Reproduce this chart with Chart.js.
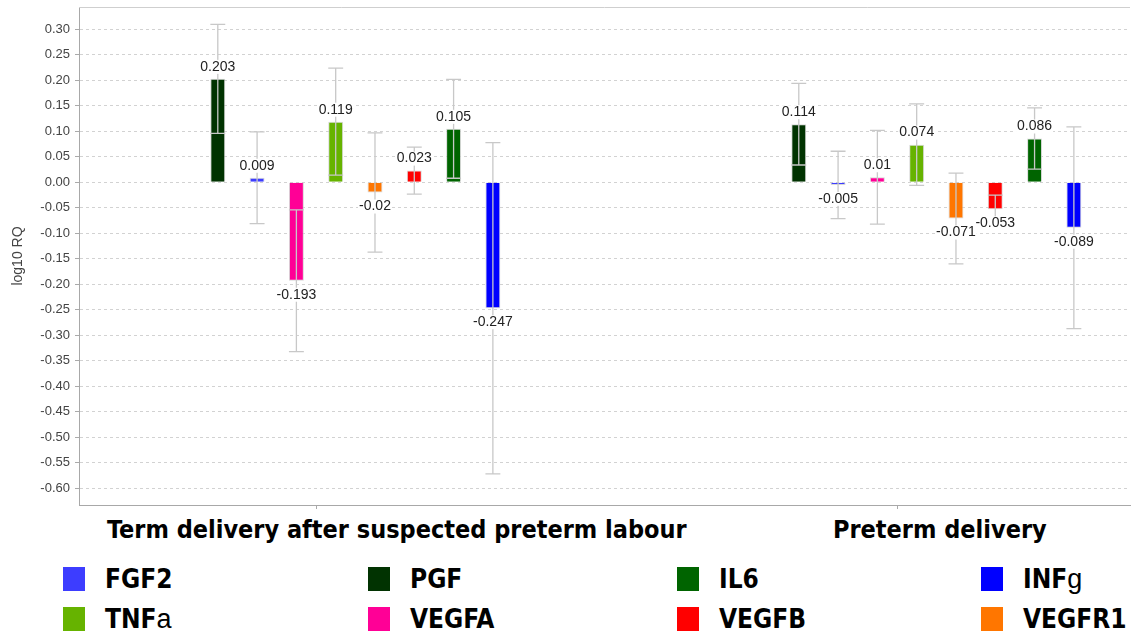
<!DOCTYPE html>
<html>
<head>
<meta charset="utf-8">
<script src="https://cdn.jsdelivr.net/npm/chart.js"></script>
<style>
  html,body{margin:0;padding:0;background:#fff;}
  #wrap{position:relative;width:1131px;height:644px;overflow:hidden;}
  #chart{position:absolute;left:0;top:0;}
  .grp{position:absolute;top:515px;font-family:"DejaVu Sans Condensed","DejaVu Sans",sans-serif;font-stretch:condensed;font-weight:bold;font-size:25px;color:#000;white-space:nowrap;}
  #legend{position:absolute;left:63px;top:567px;display:grid;grid-template-columns:305px 309px 304px 150px;grid-auto-rows:40px;}
  .item{display:flex;align-items:center;height:24px;}
  .sw{width:22px;height:24px;margin-right:20px;flex:none;}
  .lbl{font-family:"DejaVu Sans Condensed","DejaVu Sans",sans-serif;font-stretch:condensed;font-weight:bold;font-size:26px;color:#000;white-space:nowrap;}
  .lbl span{font-family:"Liberation Sans",Arial,sans-serif;font-weight:normal;font-size:27px;}
</style>
</head>
<body>
<div id="wrap">
  <canvas id="chart" width="1131" height="515"></canvas>
  <div class="grp" style="left:107px">Term delivery after suspected preterm labour</div>
  <div class="grp" style="left:833px">Preterm delivery</div>
  <div id="legend"></div>
</div>
<script>
const groups = ["Term delivery after suspected preterm labour", "Preterm delivery"];
const genes = ["PGF", "FGF2", "VEGFA", "TNFa", "VEGFR1", "VEGFB", "IL6", "INFg"];
const colors = ["#013301", "#3d3dff", "#ff0096", "#66b300", "#ff7600", "#ff0000", "#006400", "#0000ff"];
const termValues = [0.203, 0.009, -0.193, 0.119, -0.02, 0.023, 0.105, -0.247];
const pretermValues = [0.114, -0.005, 0.01, 0.074, -0.071, -0.053, 0.086, -0.089];
const termErrors = [0.107, 0.09, 0.139, 0.105, 0.117, 0.046, 0.097, 0.325];
const pretermErrors = [0.08, 0.066, 0.092, 0.08, 0.089, 0.028, 0.06, 0.198];
const yTicks = [0.30, 0.25, 0.20, 0.15, 0.10, 0.05, 0.00, -0.05, -0.10, -0.15, -0.20, -0.25,
                -0.30, -0.35, -0.40, -0.45, -0.50, -0.55, -0.60];
const legendRows = [["FGF2", "PGF", "IL6", "INFg"], ["TNFa", "VEGFA", "VEGFB", "VEGFR1"]];

const groupValues = [termValues, pretermValues];
const groupErrors = [termErrors, pretermErrors];
// the original series list had two empty series in front of the genes
const EMPTY = 2;

const datasets = [];
for (let k = 0; k < EMPTY; k++) {
  datasets.push({label: "", data: groups.map((g, i) => ({x: i, y: null}))});
}
genes.forEach((g, gi) => {
  datasets.push({
    label: g,
    data: groups.map((grp, i) => ({x: i, y: groupValues[i][gi]})),
    backgroundColor: colors[gi],
    borderColor: "rgba(205,205,205,0.8)",
    borderWidth: 1
  });
});

const overlay = {
  id: "overlay",
  afterDatasetsDraw(chart) {
    const ctx = chart.ctx, ys = chart.scales.y, a = chart.chartArea;
    ctx.save();
    // top outline of the plot box
    ctx.strokeStyle = "#cfcfcf";
    ctx.lineWidth = 1;
    ctx.beginPath();
    ctx.moveTo(a.left, a.top + 0.5);
    ctx.lineTo(a.right, a.top + 0.5);
    ctx.stroke();
    // error bars
    ctx.strokeStyle = "#c8c8c8";
    ctx.lineWidth = 1.3;
    genes.forEach((g, gi) => {
      const meta = chart.getDatasetMeta(gi + EMPTY);
      meta.data.forEach((el, i) => {
        const v = groupValues[i][gi], e = groupErrors[i][gi];
        const hi = ys.getPixelForValue(v + e), lo = ys.getPixelForValue(v - e);
        const half = el.width / 2;
        ctx.beginPath();
        ctx.moveTo(el.x, hi); ctx.lineTo(el.x, lo);
        ctx.moveTo(el.x - half, hi); ctx.lineTo(el.x + half, hi);
        ctx.moveTo(el.x - half, lo); ctx.lineTo(el.x + half, lo);
        ctx.stroke();
      });
    });
    // value labels on a white ground
    ctx.font = "14px 'Liberation Sans', Arial, sans-serif";
    ctx.textAlign = "center";
    ctx.textBaseline = "middle";
    genes.forEach((g, gi) => {
      const meta = chart.getDatasetMeta(gi + EMPTY);
      meta.data.forEach((el, i) => {
        const v = groupValues[i][gi];
        const t = String(v);
        const y = v >= 0 ? ys.getPixelForValue(v) - 12 : ys.getPixelForValue(v) + 14;
        const w = ctx.measureText(t).width;
        ctx.fillStyle = "#fff";
        ctx.fillRect(el.x - w / 2 - 1, y - 7, w + 2, 14);
        ctx.fillStyle = "#222";
        ctx.fillText(t, el.x, y);
      });
    });
    ctx.restore();
  }
};

new Chart(document.getElementById("chart"), {
  type: "bar",
  data: {datasets},
  options: {
    responsive: false,
    animation: false,
    devicePixelRatio: 1,
    categoryPercentage: 0.6764,
    barPercentage: 0.38,
    layout: {padding: {top: 7, left: 0, right: 1, bottom: 0}},
    plugins: {legend: {display: false}, tooltip: {enabled: false}},
    scales: {
      x: {
        type: "linear",
        min: -0.408,
        max: 1.401,
        offset: false,
        afterBuildTicks: s => { s.ticks = groups.map((g, i) => ({value: i})); },
        afterFit: s => { s.height = 10; s.paddingLeft = 0; s.paddingRight = 0; },
        ticks: {display: false},
        grid: {offset: false, drawOnChartArea: false, drawTicks: true, tickLength: 4, tickColor: "#aaa"},
        border: {display: true, color: "#a8a8a8", width: 1}
      },
      y: {
        min: -0.633,
        max: 0.344,
        afterBuildTicks: s => { s.ticks = yTicks.map(v => ({value: v})); },
        afterFit: s => { s.width = 79; s.paddingTop = 0; s.paddingBottom = 0; },
        ticks: {
          callback: v => v.toFixed(2),
          color: "#444",
          padding: 5,
          font: {family: "'Liberation Sans', Arial, sans-serif", size: 13}
        },
        grid: {color: "#d2d2d2", tickLength: 4, tickColor: "#aaa", tickBorderDash: []},
        border: {display: true, color: "#a8a8a8", width: 1, dash: [3, 3]},
        title: {
          display: true,
          text: "log10 RQ",
          color: "#444",
          padding: {top: 10, bottom: 0},
          font: {family: "'Liberation Sans', Arial, sans-serif", size: 14}
        }
      }
    }
  },
  plugins: [overlay]
});

// legend laid out in four columns like the pasted original
const legend = document.getElementById("legend");
legendRows.forEach(row => {
  row.forEach(name => {
    const gi = genes.indexOf(name);
    const item = document.createElement("div");
    item.className = "item";
    const sw = document.createElement("div");
    sw.className = "sw";
    sw.style.background = colors[gi];
    const lbl = document.createElement("div");
    lbl.className = "lbl";
    const m = name.match(/^(.*?)([a-z])$/);
    if (m) {
      lbl.textContent = m[1];
      const s = document.createElement("span");
      s.textContent = m[2];
      lbl.append(s);
    } else {
      lbl.textContent = name;
    }
    item.append(sw, lbl);
    legend.append(item);
  });
});
</script>
</body>
</html>
